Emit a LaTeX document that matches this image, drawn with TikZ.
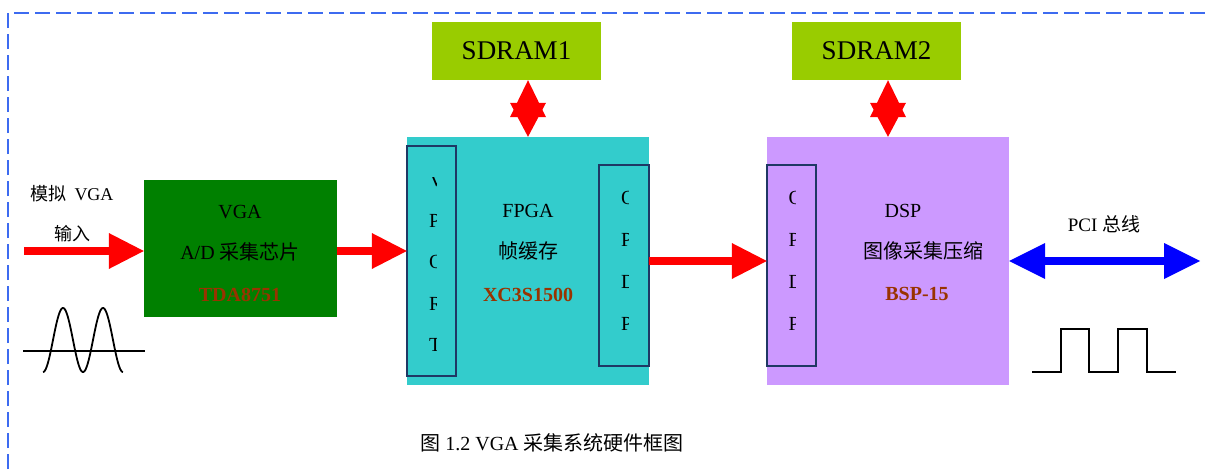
\documentclass[tikz,border=0pt]{standalone}
\usepackage{fontspec}
\setmainfont{Liberation Serif}
\newfontfamily\cjkfont{Noto Sans CJK SC}
\newcommand\zh[1]{{\cjkfont #1}}
\usetikzlibrary{arrows.meta}
\definecolor{frameblue}{RGB}{61,107,240}
\definecolor{ramgreen}{RGB}{153,204,0}
\definecolor{adgreen}{RGB}{0,128,0}
\definecolor{fpgacyan}{RGB}{51,204,204}
\definecolor{dsplilac}{RGB}{204,153,255}
\definecolor{portnavy}{RGB}{31,56,100}
\definecolor{partbrown}{RGB}{153,51,0}
\begin{document}
\begin{tikzpicture}[x=1pt,y=-1pt,
  block/.style={rectangle, inner sep=0pt, draw=none},
  portbox/.style={rectangle, inner sep=0pt, draw=portnavy, line width=1.5pt},
  lbl/.style={inner sep=0pt, anchor=base, font=\fontsize{20}{24}\selectfont},
  partno/.style={inner sep=0pt, anchor=base, font=\fontsize{20}{24}\selectfont\bfseries, text=partbrown},
  side/.style={inner sep=0pt, anchor=base, font=\fontsize{18}{22}\selectfont},
  pin/.style={inner sep=0pt, anchor=base west, font=\fontsize{20}{24}\selectfont},
  flow/.style={red, line width=8pt, -{Triangle[length=35pt,width=36pt,line width=0pt]}},
  memlink/.style={red, line width=1pt, {Triangle[length=37pt,width=36pt,line width=0pt]}-{Triangle[length=34pt,width=36pt,line width=0pt]}},
  buslink/.style={blue, line width=8pt, {Triangle[length=36pt,width=36pt,line width=0pt]}-{Triangle[length=36pt,width=36pt,line width=0pt]}},
  wave/.style={black, line width=1.8pt, line join=miter}
]
\useasboundingbox (0,0) rectangle (1205,469);

% dashed frame (top and left sides)
\draw[frameblue, line width=1.6pt, dash pattern=on 15pt off 6pt] (8,469) -- (8,13) -- (1205,13);

% blocks
\node[block, fill=ramgreen, minimum width=169pt, minimum height=58pt] (ram1) at (516.5,51) {};
\node[block, fill=ramgreen, minimum width=169pt, minimum height=58pt] (ram2) at (876.5,51) {};
\node[block, fill=adgreen, minimum width=193pt, minimum height=137pt] (vga) at (240.5,248.5) {};
\node[block, fill=fpgacyan, minimum width=242pt, minimum height=248pt] (fpga) at (528,261) {};
\node[block, fill=dsplilac, minimum width=242pt, minimum height=248pt] (dsp) at (888,261) {};

% port boxes inside the FPGA and the DSP
\node[portbox, minimum width=49pt, minimum height=230pt] (fpgain) at (431.5,261) {};
\node[portbox, minimum width=50pt, minimum height=201pt] (fpgaout) at (624,265.5) {};
\node[portbox, minimum width=49pt, minimum height=201pt] (dspin) at (791.5,265.5) {};

% port letters, cut off by their narrow text frames
\begin{scope}
  \clip (426,177) rectangle (436,360);
  \node[pin] (pa1) at (429,186) {V};
  \node[pin] (pa2) at (429,227) {P};
  \node[pin] (pa3) at (429,268) {O};
  \node[pin] (pa4) at (429,310) {R};
  \node[pin] (pa5) at (429,351) {T};
\end{scope}
\begin{scope}
  \clip (618,185) rectangle (628,340);
  \node[pin] (pb1) at (621,204) {O};
  \node[pin] (pb2) at (621,246) {P};
  \node[pin] (pb3) at (621,288) {D};
  \node[pin] (pb4) at (621,330) {P};
\end{scope}
\begin{scope}
  \clip (785,185) rectangle (795,340);
  \node[pin] (pc1) at (788.5,204) {O};
  \node[pin] (pc2) at (788.5,246) {P};
  \node[pin] (pc3) at (788.5,288) {D};
  \node[pin] (pc4) at (788.5,330) {P};
\end{scope}

% block labels
\node[inner sep=0pt, font=\fontsize{27}{32}\selectfont] (ram1t) at (ram1) {SDRAM1};
\node[inner sep=0pt, font=\fontsize{27}{32}\selectfont] (ram2t) at (ram2) {SDRAM2};

\node[lbl] (vgat1) at (240,218) {VGA};
\node[lbl] (vgat2) at (240,259) {A/D \zh{采集芯片}};
\node[partno] (vgat3) at (240,301) {TDA8751};

\node[lbl] (fpgat1) at (528,217) {FPGA};
\node[lbl] (fpgat2) at (528,258) {\zh{帧缓存}};
\node[partno] (fpgat3) at (528,301) {XC3S1500};

\node[lbl] (dspt1) at (903,217) {DSP};
\node[lbl] (dspt2) at (923,258) {\zh{图像采集压缩}};
\node[partno] (dspt3) at (917,300) {BSP-15};

% side labels
\node[side] (inlbl1) at (72,200) {\zh{模拟}\hspace{8pt}VGA};
\node[side] (inlbl2) at (72,240) {\zh{输入}};
\node[side, font=\fontsize{19}{22}\selectfont] (buslbl) at (1104,231) {PCI \zh{总线}};

% connectors
\coordinate (vgain) at (24,251);
\coordinate (pcibus) at (1200,261);
\draw[flow] (vgain) -- (vgain -| vga.west);
\draw[flow] (vga.east |- vgain) -- (fpga.west |- vgain);
\draw[flow] (fpga.east) -- (dsp.west);
\draw[memlink] (fpga.north |- ram1.south) -- (fpga.north);
\draw[memlink] (dsp.north |- ram2.south) -- (dsp.north);
\draw[buslink] (dsp.east) -- (pcibus);

% analog input waveform
\draw[black, line width=1.5pt] (23,351) -- (145,351);
\draw[wave] plot[domain=43:123, samples=120, smooth] (\x, {340 + 32*cos((\x-43)*9)});

% digital bus waveform
\draw[wave] (1032,372) -- (1061,372) -- (1061,329) -- (1089,329) -- (1089,372)
  -- (1118,372) -- (1118,329) -- (1147,329) -- (1147,372) -- (1176,372);

% caption
\node[lbl] (caption) at (552,450) {\zh{图} 1.2 VGA \zh{采集系统硬件框图}};
\end{tikzpicture}
\end{document}
